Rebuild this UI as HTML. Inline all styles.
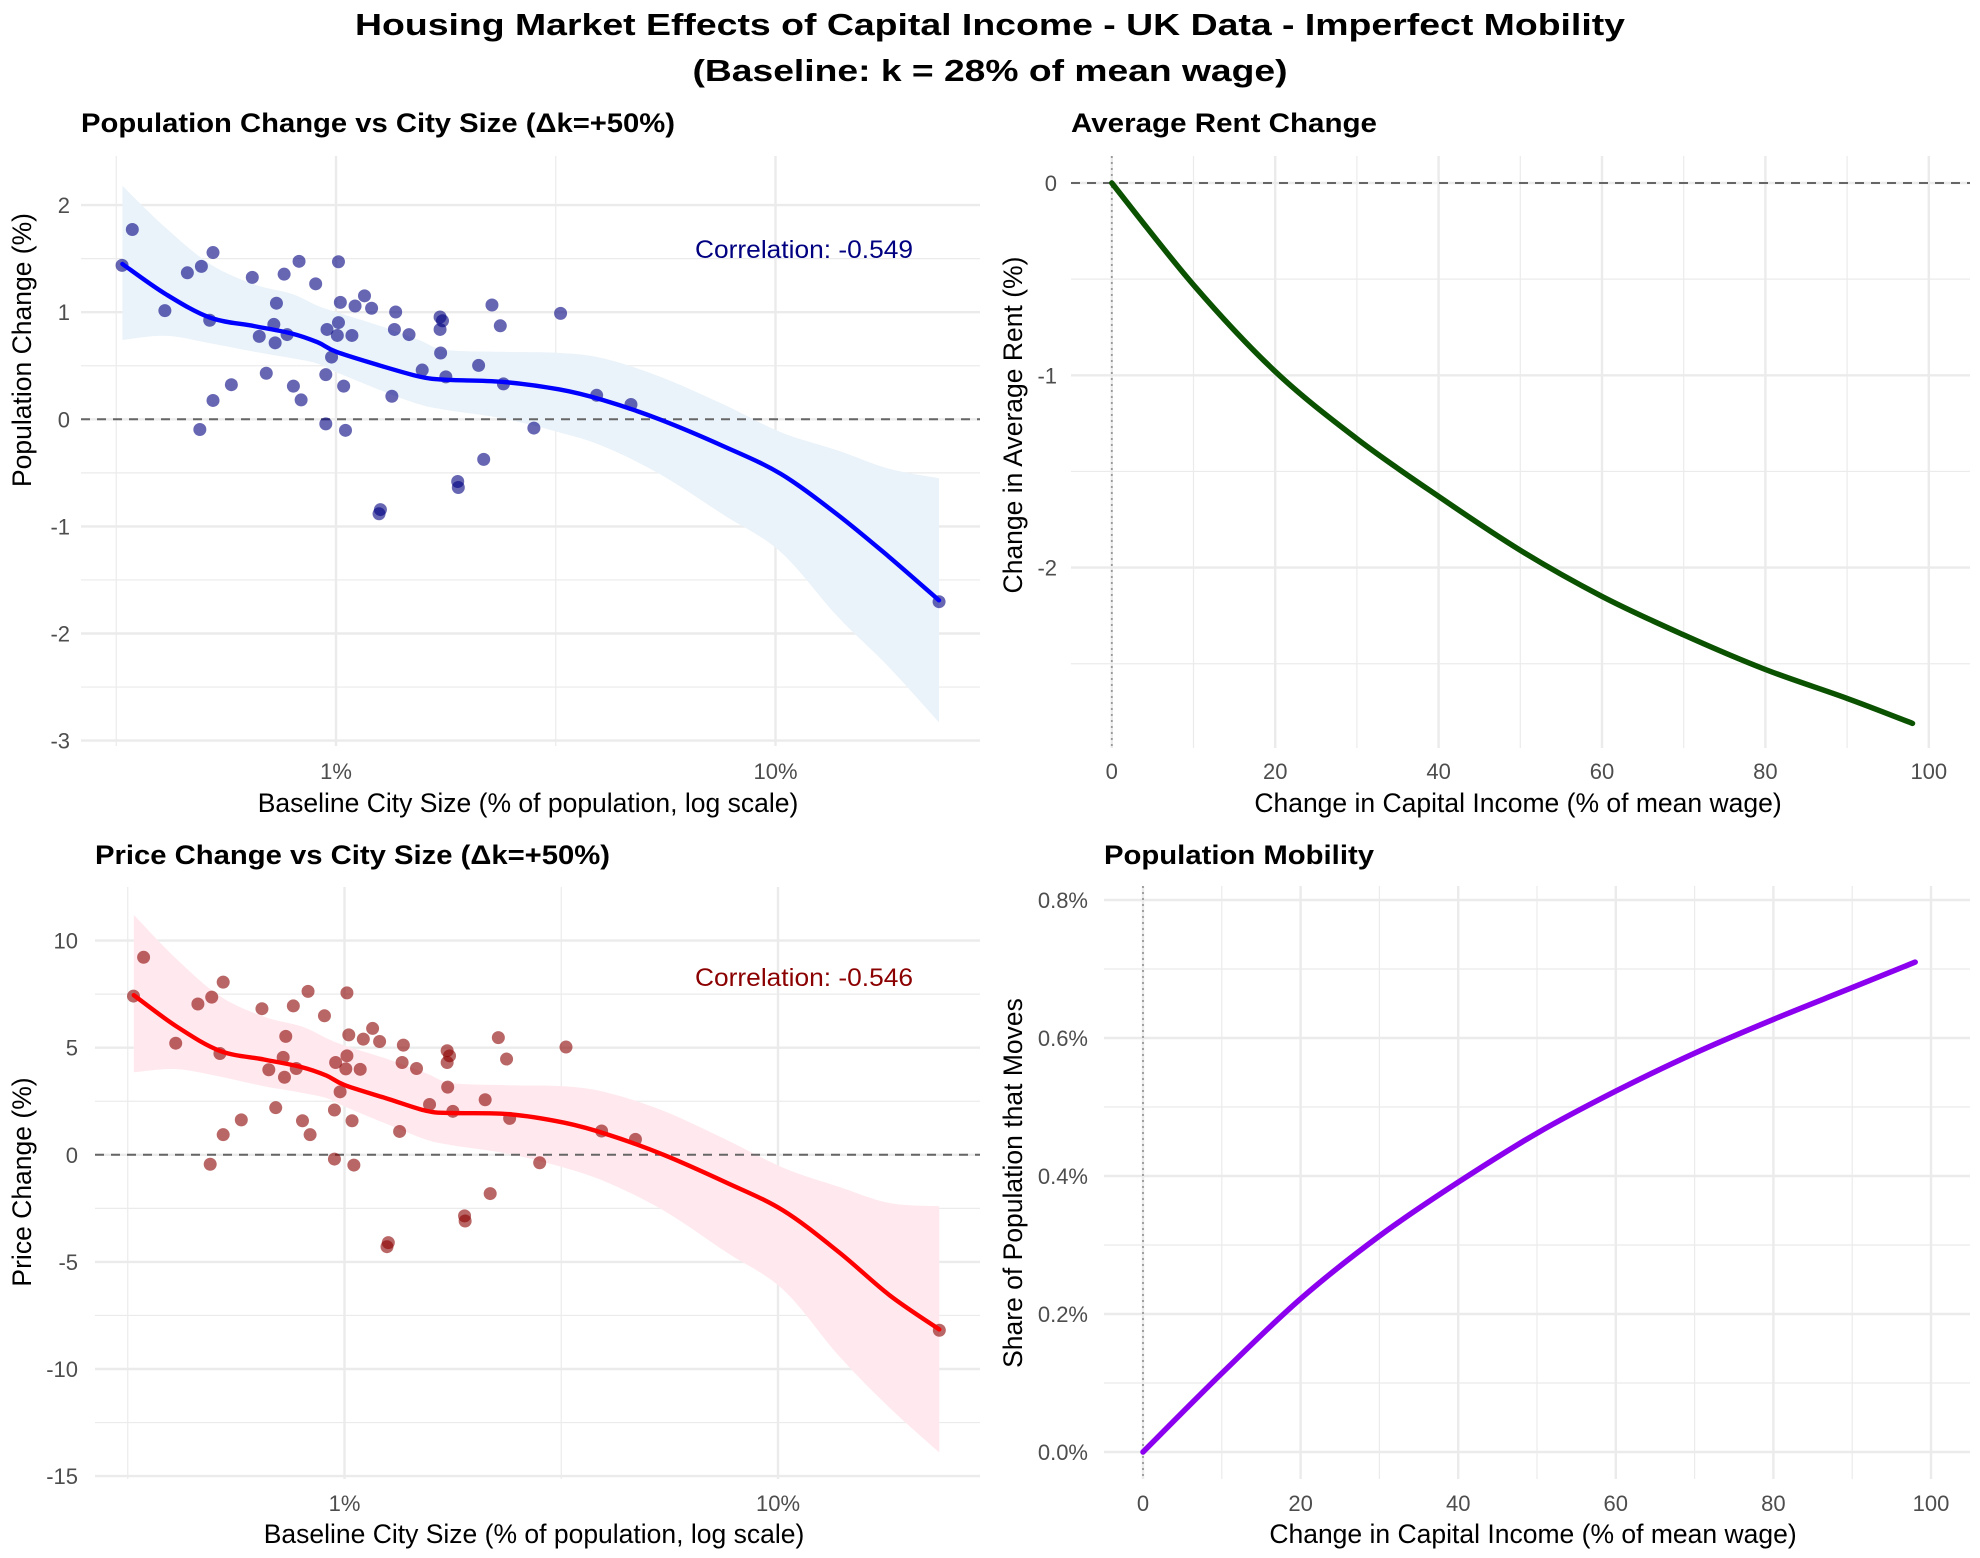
<!DOCTYPE html>
<html><head><meta charset="utf-8">
<style>
html,body{margin:0;padding:0;background:#fff;}
svg{display:block;font-family:"Liberation Sans",Arial,sans-serif;}
</style></head>
<body>
<svg id="chart" width="1980" height="1558" viewBox="0 0 1980 1558" xmlns="http://www.w3.org/2000/svg">
<rect x="0" y="0" width="1980" height="1558" fill="#fff"/>
<text x="990" y="35" text-anchor="middle" font-size="31" font-weight="bold" textLength="1270" lengthAdjust="spacingAndGlyphs">Housing Market Effects of Capital Income - UK Data - Imperfect Mobility</text>
<text x="990" y="81" text-anchor="middle" font-size="31" font-weight="bold" textLength="595" lengthAdjust="spacingAndGlyphs">(Baseline: k = 28% of mean wage)</text>
<g id="p1"></g>
<g id="p2"></g>
<g id="p3"></g>
<g id="p4"></g>
</svg>
<script>
// ---- data ----
const citySizePct = [0.326,0.344,0.408,0.459,0.494,0.525,0.516,0.490,0.525,0.578,0.645,0.669,0.694,0.722,0.732,0.727,0.762,0.774,0.800,0.824,0.833,0.899,0.948,0.948,0.954,0.977,1.013,1.013,1.023,1.007,1.041,1.051,1.087,1.105,1.161,1.205,1.253,1.262,1.340,1.358,1.367,1.466,1.571,1.725,1.725,1.730,1.747,1.778,1.892,1.898,2.111,2.168,2.264,2.365,2.404,2.820,3.243,3.918,4.690,23.56];
const popChange = [1.437,1.772,1.015,1.368,1.428,1.557,0.925,-0.095,0.176,0.323,1.325,0.774,0.430,0.886,1.084,0.714,1.355,0.791,0.310,1.475,0.181,1.265,0.417,-0.043,0.839,0.581,1.471,0.903,1.092,0.783,0.310,-0.103,0.783,1.058,1.153,1.037,-0.882,-0.843,0.215,0.839,1.002,0.791,0.460,0.955,0.839,0.619,0.920,0.396,-0.581,-0.637,0.503,-0.374,1.067,0.873,0.331,-0.082,0.989,0.224,0.138,-1.703];
const priceChange = [7.41,9.22,5.21,7.04,7.36,8.06,4.73,-0.44,0.94,1.63,6.82,3.97,2.20,4.55,5.53,3.62,6.95,4.03,1.59,7.63,0.94,6.49,2.09,-0.20,4.31,2.94,7.56,4.62,5.60,4.01,1.59,-0.48,3.99,5.40,5.90,5.29,-4.29,-4.10,1.09,4.31,5.12,4.03,2.35,4.86,4.31,3.16,4.62,2.03,-2.85,-3.09,2.57,-1.81,5.47,4.47,1.70,-0.37,5.03,1.11,0.72,-8.19];
const smoothLog10X = [-0.486,-0.388,-0.287,-0.186,-0.100,-0.042,0.001,0.102,0.189,0.247,0.377,0.507,0.607,0.736,0.881,1.012,1.141,1.257,1.372];
const popSmooth = [1.45,1.17,0.95,0.87,0.80,0.72,0.63,0.50,0.40,0.37,0.35,0.28,0.18,0.0,-0.25,-0.51,-0.89,-1.28,-1.69];
const popHi = [2.18,1.79,1.45,1.26,1.17,1.06,1.00,0.87,0.74,0.65,0.63,0.62,0.57,0.40,0.14,-0.12,-0.29,-0.46,-0.55];
const popLo = [0.74,0.78,0.71,0.63,0.57,0.52,0.44,0.27,0.14,0.09,0.01,-0.12,-0.25,-0.51,-0.89,-1.24,-1.84,-2.31,-2.83];
const priceSmooth = [7.45,6.0,4.85,4.45,4.1,3.7,3.25,2.6,2.05,1.95,1.9,1.5,0.95,0.0,-1.3,-2.6,-4.55,-6.55,-8.15];
const priceHi = [11.2,9.15,7.4,6.45,6.0,5.45,5.1,4.45,3.8,3.35,3.25,3.2,2.9,2.05,0.7,-0.6,-1.5,-2.25,-2.4];
const priceLo = [3.85,4.0,3.65,3.2,2.9,2.65,2.25,1.4,0.7,0.45,0.05,-0.6,-1.3,-2.6,-4.55,-6.3,-9.4,-11.8,-13.9];
const capIncome = [0,10,20,30,40,50,60,70,80,90,98];
const rentChange = [0,-0.53,-0.98,-1.33,-1.63,-1.91,-2.15,-2.35,-2.53,-2.68,-2.81];
const moveShare = [0,0.114,0.222,0.313,0.391,0.462,0.523,0.578,0.627,0.673,0.710];
const popYTicks = [-3,-2,-1,0,1,2];
const priceYTicks = [-15,-10,-5,0,5,10];
const rentYTicks = [-2,-1,0];
const moveYTicks = [0,0.2,0.4,0.6,0.8];
const linXTicks = [0,20,40,60,80,100];
const logXTicks = [1,10];
const logXTickLabels = ['1%','10%'];

const NS='http://www.w3.org/2000/svg';
function mk(parent, tag, attrs){const e=document.createElementNS(NS,tag);for(const k in attrs)e.setAttribute(k,attrs[k]);parent.appendChild(e);return e;}
function hline(g,x1,x2,y,w,col,dash){const l=mk(g,'line',{x1:x1,x2:x2,y1:y,y2:y,stroke:col,'stroke-width':w});if(dash)l.setAttribute('stroke-dasharray',dash);return l;}
function vline(g,x,y1,y2,w,col,dash){const l=mk(g,'line',{x1:x,x2:x,y1:y1,y2:y2,stroke:col,'stroke-width':w});if(dash)l.setAttribute('stroke-dasharray',dash);return l;}
function curveD(px,py,cont){
  let d=(cont?'L':'M')+px[0].toFixed(1)+','+py[0].toFixed(1);
  for(let i=0;i<px.length-1;i++){const p0=i?i-1:i,p3=i+2<px.length?i+2:i+1;
    d+=' C'+(px[i]+(px[i+1]-px[p0])/6).toFixed(1)+','+(py[i]+(py[i+1]-py[p0])/6).toFixed(1)+' '+(px[i+1]-(px[p3]-px[i])/6).toFixed(1)+','+(py[i+1]-(py[p3]-py[i])/6).toFixed(1)+' '+px[i+1].toFixed(1)+','+py[i+1].toFixed(1);}
  return d;
}

function panel(cfg){
  const g=document.getElementById(cfg.id);
  const {L,R,T,B}=cfg;
  cfg.yMinor.forEach(v=>{const y=cfg.sy(v);if(y>=T&&y<=B){const l=hline(g,L,R,y,1.2,'#ebebeb');}});
  cfg.xMinor.forEach(v=>{const x=cfg.sx(v);if(x>=L&&x<=R){const l=vline(g,x,T,B,1.2,'#ebebeb');}});
  cfg.yTicks.forEach((v,i)=>{const y=cfg.sy(v);const l=hline(g,L,R,y,2.4,'#ebebeb');
    const t=mk(g,'text',{x:cfg.yLabX,y:y+8,'text-anchor':'end','font-size':22,fill:'#4d4d4d'});t.textContent=cfg.yFmt(v);
    });
  cfg.xTicks.forEach((v,i)=>{const x=cfg.sx(v);const l=vline(g,x,T,B,2.4,'#ebebeb');
    const t=mk(g,'text',{x:x,y:cfg.xLabY,'text-anchor':'middle','font-size':22,fill:'#4d4d4d'});t.textContent=cfg.xLabels[i];
    });
  const ti=mk(g,'text',{x:cfg.titleX,y:cfg.titleY,'font-size':27,'font-weight':'bold',textLength:cfg.titleW,lengthAdjust:'spacingAndGlyphs'});ti.textContent=cfg.title;
  
  const xt=mk(g,'text',{x:cfg.xtC,y:cfg.xTitleY,'text-anchor':'middle','font-size':26.5});xt.textContent=cfg.xTitle;
  
  const yc=cfg.ytC;
  const yt=mk(g,'text',{x:cfg.yTitleX,y:yc,'text-anchor':'middle','font-size':26.5,transform:'rotate(-90 '+cfg.yTitleX+' '+yc+')'});yt.textContent=cfg.yTitle;
  
  return g;
}

function scatterPanel(id,L,R,T,B,x1pct,decade,y0,unit,yTicks,yMinor,ys,sm,hi,lo,ptCol,lineCol,bandCol,title,titleX,titleY,titleW,yTitle,yLabX,xLabY,xTitleY,xtC,ytC,corr,corrCol,corrY){
  const sx=v=>x1pct+Math.log10(v)*decade;
  const sxl=d=>x1pct+d*decade;
  const sy=v=>y0-v*unit;
  const g=panel({id,L,R,T,B,sx,sy,yTicks,yMinor,xTicks:logXTicks,xLabels:logXTickLabels,xMinor:[Math.pow(10,-0.5),Math.pow(10,0.5),Math.pow(10,1.5)],
    yFmt:v=>String(v),yLabX,xLabY,title,titleX,titleY,titleW,xTitle:'Baseline City Size (% of population, log scale)',xtC,xTitleY,yTitle,yTitleX:31,ytC});
  const bx=smoothLog10X.map(sxl);
  const band=mk(g,'path',{d:curveD(bx,hi.map(sy),false)+' '+curveD(bx.slice().reverse(),lo.map(sy).reverse(),true)+' Z',fill:bandCol,stroke:'none'});
  
  const z=hline(g,L,R,sy(0),2,'#666','9 7');
  citySizePct.forEach((v,i)=>{const c=mk(g,'circle',{cx:sx(v),cy:sy(ys[i]),r:6.5,fill:ptCol,'fill-opacity':0.6});
    });
  const ln=mk(g,'path',{d:curveD(bx,sm.map(sy),false),fill:'none',stroke:lineCol,'stroke-width':4.4,'stroke-linejoin':'round','stroke-linecap':'round'});
  
  const ct=mk(g,'text',{x:913,y:corrY,'text-anchor':'end','font-size':25,fill:corrCol,textLength:218,lengthAdjust:'spacingAndGlyphs'});ct.textContent=corr;
  
}

scatterPanel('p1',81,980,156,746,336,439.5,419.3,107.1,popYTicks,[-2.5,-1.5,-0.5,0.5,1.5],popChange,popSmooth,popHi,popLo,'#000080','#0000ff','#eaf3fa',
  'Population Change vs City Size (\u0394k=+50%)',81,132,594,'Population Change (%)',70,779,812,528,350,'Correlation: -0.549','#000080',258);
scatterPanel('p3',95,980,887,1479,344.5,433.5,1154.8,21.42,priceYTicks,[-12.5,-7.5,-2.5,2.5,7.5],priceChange,priceSmooth,priceHi,priceLo,'#8b0000','#ff0000','#ffe9ee',
  'Price Change vs City Size (\u0394k=+50%)',95,864,515,'Price Change (%)',78,1511,1543,534,1182,'Correlation: -0.546','#8b0000',986);

function linePanel(id,L,R,T,B,x0,per20,y0,unitY,yTicks,yMinor,yFmt,vals,col,title,titleX,titleY,titleW,yTitle,yTitleX,yLabX,xtC,ytC,withZero){
  const sx=v=>x0+v/20*per20;
  const sy=v=>y0-v*unitY;
  const g=panel({id,L,R,T,B,sx,sy,yTicks,yMinor,yFmt,xTicks:linXTicks,xLabels:linXTicks.map(String),xMinor:[10,30,50,70,90],
    yLabX,xLabY:id==='p2'?779:1511,title,titleX,titleY,titleW,xTitle:'Change in Capital Income (% of mean wage)',xtC,xTitleY:id==='p2'?812:1543,yTitle,yTitleX,ytC});
  if(withZero){const z=hline(g,L,R,sy(0),2,'#666','9 7');}
  const v=vline(g,sx(0),T,B,1.8,'#999','2 4');
  const ln=mk(g,'path',{d:curveD(capIncome.map(sx),vals.map(sy),false),fill:'none',stroke:col,'stroke-width':5.5,'stroke-linecap':'round'});
  
}
linePanel('p2',1071,1970,156,748,1111.8,163.4,183,192.3,rentYTicks,[-2.5,-1.5,-0.5],v=>String(v),rentChange,'#0a5200','Average Rent Change',1071,132,306,'Change in Average Rent (%)',1022,1057,1518,425,true);
linePanel('p4',1104,1970,886,1479,1143,157.6,1452,690,moveYTicks,[0.1,0.3,0.5,0.7],v=>v.toFixed(1)+'%',moveShare,'#8b00ee','Population Mobility',1104,864,270,'Share of Population that Moves',1022,1088,1533,1183,false);
</script>
</body></html>
